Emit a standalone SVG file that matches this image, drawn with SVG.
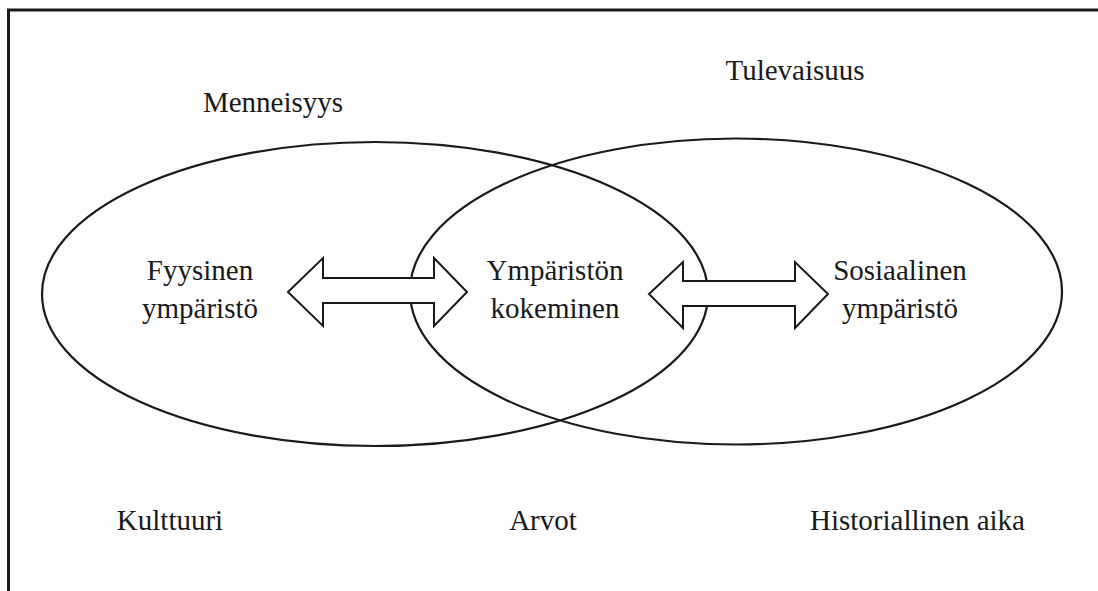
<svg xmlns="http://www.w3.org/2000/svg" width="1098" height="591" viewBox="0 0 1098 591">
<style>
.t{font-family:"Liberation Serif","Times New Roman",serif;font-size:29px;fill:#1a1a1a;text-anchor:middle}
.e{fill:none;stroke:#1a1a1a;stroke-width:2.2}
.a{fill:#fff;stroke:#1a1a1a;stroke-width:2;stroke-linejoin:miter}
</style>
<rect width="1098" height="591" fill="#fdfdfd"/>
<path d="M8.5,591 V10 H1098" fill="none" stroke="#1a1a1a" stroke-width="3"/>
<g id="left-ellipse"><ellipse class="e" cx="375" cy="294" rx="333" ry="152"/></g>
<g id="right-ellipse"><ellipse class="e" cx="736" cy="291.5" rx="326" ry="153"/></g>
<g id="connectors">
<path class="a" d="M288,292 L323,258 L323,278 L434,278 L434,258 L467,292 L434,326 L434,303 L323,303 L323,326 Z"/>
<path class="a" d="M649,294 L683,262 L683,281 L795,281 L795,262 L828,294 L795,328 L795,306 L683,306 L683,328 Z"/>
</g>
<g id="menneisyys"><text class="t" x="273" y="112">Menneisyys</text></g>
<g id="tulevaisuus"><text class="t" x="795" y="80">Tulevaisuus</text></g>
<g id="fyysinen"><text class="t" x="200" y="280">Fyysinen</text><text class="t" x="200" y="318">ympäristö</text></g>
<g id="kokeminen"><text class="t" x="555" y="280">Ympäristön</text><text class="t" x="555" y="318">kokeminen</text></g>
<g id="sosiaalinen"><text class="t" x="900" y="280">Sosiaalinen</text><text class="t" x="900" y="318">ympäristö</text></g>
<g id="kulttuuri"><text class="t" x="170" y="530">Kulttuuri</text></g>
<g id="arvot"><text class="t" x="543" y="530">Arvot</text></g>
<g id="historiallinen"><text class="t" x="1025" y="530" style="text-anchor:end">Historiallinen aika</text></g>
</svg>
